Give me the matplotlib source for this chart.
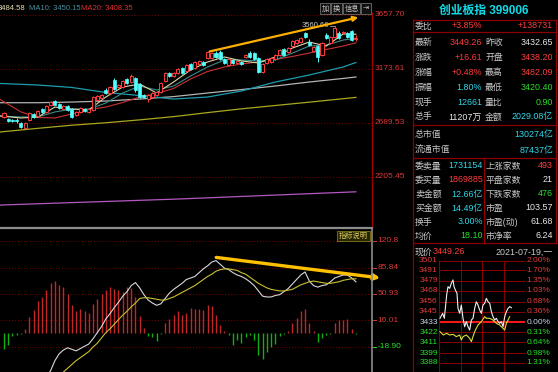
import numpy as np
import matplotlib.pyplot as plt

W, H = 558, 372
plt.rcParams['font.family'] = ['Liberation Sans', 'Noto Sans CJK SC', 'DejaVu Sans']
plt.rcParams['axes.unicode_minus'] = False

RED = '#ff3c3c'
CYAN = '#54ffff'
GRID = '#7a0000'
TXT = '#c8c8c8'
WHITE = '#e8e8e8'
GREEN = '#28e028'
BLUE = '#30d8e8'

# ---- daily candles (index 0 = oldest) ----
opens = [2742, 2724, 2718, 2716, 2688, 2643, 2715, 2769, 2751, 2814,
         2787, 2850, 2885, 2858, 2814, 2841, 2814, 2760, 2787, 2814,
         2787, 2805, 2894, 2912, 2984, 2957, 3074, 3011, 3011, 3083,
         3056, 3092, 3038, 2939, 2903, 2921, 2939, 2966, 3065, 3137,
         3110, 3137, 3182, 3155, 3218, 3182, 3218, 3236, 3272, 3272,
         3316, 3325, 3263, 3209, 3254, 3227, 3236, 3281, 3316, 3316,
         3272, 3146, 3227, 3236, 3263, 3299, 3352, 3325, 3379, 3406,
         3415, 3496, 3415, 3334, 3379, 3299, 3478, 3406, 3460, 3496,
         3496, 3496, 3510, 3438.20]
closes = [2778, 2710, 2708, 2705, 2652, 2688, 2778, 2742, 2796, 2787,
          2841, 2876, 2850, 2822, 2841, 2805, 2742, 2787, 2822, 2796,
          2814, 2921, 2930, 2939, 2957, 3011, 2993, 3029, 3065, 3047,
          3110, 2984, 2921, 2921, 2939, 2957, 2966, 3047, 3137, 3110,
          3137, 3173, 3137, 3209, 3173, 3236, 3245, 3209, 3325, 3316,
          3281, 3263, 3227, 3263, 3227, 3245, 3218, 3299, 3281, 3263,
          3146, 3218, 3263, 3272, 3299, 3343, 3299, 3361, 3424, 3433,
          3451, 3460, 3388, 3370, 3281, 3406, 3451, 3460, 3541, 3451,
          3505, 3460, 3432.65, 3449.26]
highs = [2790, 2735, 2728, 2730, 2700, 2695, 2785, 2778, 2805, 2823,
         2848, 2885, 2895, 2866, 2850, 2850, 2820, 2795, 2830, 2820,
         2822, 2928, 2940, 2948, 3000, 3020, 3092, 3038, 3072, 3092,
         3128, 3100, 3045, 2948, 2946, 2965, 2975, 3055, 3146, 3146,
         3146, 3182, 3191, 3218, 3227, 3245, 3254, 3245, 3334, 3325,
         3334, 3343, 3272, 3272, 3263, 3254, 3245, 3308, 3334, 3325,
         3281, 3227, 3272, 3281, 3308, 3352, 3361, 3370, 3433, 3442,
         3460, 3505, 3440, 3379, 3388, 3415, 3496, 3469, 3560.66, 3514,
         3514, 3505, 3523, 3482.09]
lows = [2733, 2700, 2695, 2690, 2640, 2625, 2708, 2735, 2745, 2780,
        2780, 2842, 2845, 2815, 2808, 2798, 2735, 2752, 2780, 2790,
        2780, 2800, 2888, 2905, 2950, 2950, 2985, 3002, 3005, 3040,
        3050, 2966, 2912, 2912, 2880, 2915, 2932, 2960, 3058, 3102,
        3104, 3130, 3130, 3148, 3166, 3176, 3210, 3200, 3265, 3265,
        3274, 3256, 3218, 3200, 3220, 3220, 3210, 3274, 3274, 3256,
        3137, 3140, 3220, 3230, 3256, 3292, 3292, 3318, 3370, 3400,
        3408, 3452, 3380, 3326, 3236, 3292, 3444, 3398, 3452, 3444,
        3488, 3452, 3425, 3420.40]

# moving averages
ma_idx = [-1, 4, 8, 12, 16, 20, 24, 28, 32, 36, 40, 44, 48, 52, 56, 60, 64, 68, 72, 76, 80, 83]
ma5 = [2751, 2733, 2742, 2831, 2813, 2805, 2921, 3011, 3038, 2957, 3056,
       3164, 3236, 3281, 3245, 3227, 3281, 3361, 3415, 3379, 3487, 3485]
ma10 = [2751, 2742, 2742, 2787, 2813, 2813, 2867, 2957, 3020, 2984, 3020,
        3110, 3191, 3254, 3254, 3245, 3254, 3316, 3379, 3388, 3433, 3450]
ma20 = [2901, 2787, 2737, 2733, 2769, 2809, 2831, 2872, 2921, 2953, 2998,
        3083, 3150, 3191, 3218, 3236, 3258, 3285, 3316, 3348, 3379, 3408]
long_idx = [-1, 8, 16, 24, 32, 40, 48, 56, 64, 72, 80, 83]
ma60 = [3043, 3029, 3007, 2962, 2935, 2903, 2921, 2975, 3056, 3119, 3191, 3231]
ma120 = [2870, 2870, 2876, 2885, 2903, 2925, 2957, 2988, 3020, 3056, 3088, 3101]
ma250 = [2607, 2640, 2668, 2690, 2716, 2745, 2781, 2815, 2845, 2875, 2906, 2918]
far_idx = [-1, 41, 83]
ma_far = [1951, 2005, 2070]

price_ticks = [3657.70, 3173.61, 2689.53, 2205.45]
top_values = ['3484.58', 'MA10: 3450.15', 'MA20: 3408.35']

# ---- MACD ----
macd = [-21, -15.8, -4.4, -2.6, -1.3, 4.4, 20.6, 29.4, 41.3, 47,
        55.8, 65.9, 67.6, 62.3, 60.1, 50.5, 36, 28.1, 31.6, 28.1,
        26.4, 38.2, 44.8, 51.4, 55.8, 60.1, 57.1, 55.8, 53.5, 60.1,
        58.8, 47, 21.9, 6.1, -4.4, -5.7, -11.5, -1.3, 13.2, 17.6,
        23.7, 28.1, 23.7, 26.4, 32.5, 31.6, 31.6, 29.4, 36, 34.7,
        23.7, 9.6, 2.6, -3.5, -16.7, -10.1, -13.2, -6, -3.5, -10.1,
        -29.9, -34.3, -25.5, -19, -14.5, -4.8, -1.7, 2, 13.2, 19.3,
        28.1, 30.7, 13.2, 2.6, -12.3, -7, -2.6, -1.3, 12.3, 16.3,
        16.7, 17.6, 4.4, -2.2]
nan = np.nan
dif = [nan, nan, nan, nan, nan, nan, nan, nan, nan, -70,
       -58, -50, -37, -28, -23, -20, -22, -24, -21, -18,
       -15, -8, 0, 8, 18, 25, 33, 40, 48, 54,
       62, 66, 59, 50, 43, 39, 36, 38, 45, 52,
       57, 61, 65, 70, 72, 74, 79, 84, 88, 93,
       95, 90, 85, 83, 79, 76, 74, 71, 67, 62,
       55, 48, 47, 47, 49, 50, 54, 58, 64, 70,
       76, 80, 68, 62, 60, 62, 63, 67, 72, 74,
       76, 76, 72, 67]
dea = [nan, nan, nan, nan, nan, nan, nan, nan, nan, nan,
       nan, nan, -72, -62, -52, -47, -42, -37, -33, -29,
       -25, -19, -14, -7, 0, 5, 11, 17, 23, 28,
       34, 39, 45, 46, 46, 45, 44, 43, 43, 45,
       47, 50, 53, 56, 59, 62, 66, 70, 74, 77,
       81, 83, 84, 84, 83, 82, 79, 77, 73, 69,
       65, 62, 59, 57, 56, 55, 55, 56, 57, 60,
       63, 65, 67, 68, 67, 66, 65, 65, 66, 67,
       69, 70, 71, 71]
macd_ticks = [120.8, 85.84, 50.93, 16.01, -18.90]

# ---- intraday ----
tick_minutes = [2.8, 10.2, 14.9, 21.4, 25.1, 29.8, 34.4, 39.1, 41.9, 45.6,
                50.2, 53.0, 57.7, 62.3, 67.0, 71.6, 76.3, 81.0, 85.6, 90.3,
                94.9, 99.6, 104.2, 108.9, 113.5, 118.2, 122.8, 127.5, 132.1, 136.8,
                141.5, 146.1, 150.8, 155.4, 160.1, 164.7, 169.4, 174.0, 178.7, 183.3,
                188.0, 192.7, 197.3, 202.0]
tick_price = [3437.5, 3443, 3437.5, 3463.3, 3472.6, 3470.7, 3476.3, 3480, 3472.6, 3468.9,
              3465.2, 3448.6, 3443, 3452.2, 3437.5, 3428.2, 3433.8, 3428.2, 3424.5, 3435.6,
              3437.5, 3448.6, 3455.9, 3452.2, 3446.7, 3443, 3452.2, 3454.1, 3459.6, 3455.9,
              3454.1, 3444.9, 3439.3, 3435.6, 3437.5, 3433.8, 3431.9, 3433.8, 3428.2, 3439.3,
              3444.9, 3448.6, 3450.4, 3449.3]
avg_minutes = [2.8, 12.1, 21.4, 29.8, 39.1, 48.4, 57.7, 62.3, 67.0, 76.3,
               85.6, 90.3, 94.9, 99.6, 108.9, 118.2, 127.5, 132.1, 141.5, 150.8,
               160.1, 169.4, 178.7, 183.3, 188.0, 197.3]
avg_price = [3422.7, 3419, 3420.9, 3419, 3419.7, 3417.2, 3419, 3413.5, 3417.2, 3419,
             3415.3, 3411.6, 3417.2, 3422.7, 3430.1, 3433.8, 3439.3, 3437.5, 3437.5, 3435.6,
             3431.9, 3430.1, 3426.4, 3424.5, 3431.9, 3439.3]
intra_ticks = [3501, 3491, 3479, 3468, 3456, 3445, 3433, 3422, 3411, 3399, 3388]
intra_pct = ['2.00%', '1.70%', '1.35%', '1.03%', '0.68%', '0.36%', '0.00%',
             '0.31%', '0.64%', '0.98%', '1.31%']

# ---- quote panel ----
title = '创业板指 399006'
wb_label, wb_pct, wb_diff = '委比', '+3.85%', '+138731'
q_left_lab = ['最新', '涨跌', '涨幅', '振幅', '现手', '总手']
q_left_val = ['3449.26', '+16.61', '+0.48%', '1.80%', '12661', '11207万']
q_left_col = [RED, RED, RED, BLUE, BLUE, WHITE]
q_right_lab = ['昨收', '开盘', '最高', '最低', '量比', '金额']
q_right_val = ['3432.65', '3438.20', '3482.09', '3420.40', '0.90', '2029.08亿']
q_right_col = [WHITE, RED, RED, GREEN, GREEN, BLUE]
cap_lab = ['总市值', '流通市值']
cap_val = ['130274亿', '87437亿']
b_left_lab = ['委卖量', '委买量', '卖金额', '买金额', '换手', '均价']
b_left_val = ['1731154', '1869885', '12.66亿', '14.49亿', '3.00%', '18.10']
b_left_col = [BLUE, RED, BLUE, BLUE, BLUE, GREEN]
b_right_lab = ['上涨家数', '平盘家数', '下跌家数', '市盈', '市盈(动)', '市净率']
b_right_val = ['493', '21', '476', '103.57', '61.68', '6.24']
b_right_col = [RED, WHITE, GREEN, WHITE, WHITE, WHITE]
now_label, now_price, now_date = '现价', '3449.26', '2021-07-19,一'
buttons = ['加', '换', '信息', '⇥']


def px_axes(fig, x0, y0, x1, y1):
    return fig.add_axes([x0 / W, 1 - y1 / H, (x1 - x0) / W, (y1 - y0) / H])


fig = plt.figure(figsize=(W / 100, H / 100), dpi=100, facecolor='black')

# main candlestick panel
ax = px_axes(fig, 0, 0, 372, 228)
ax.set_facecolor('black')
ax.set_xlim(-0.943, 86.79)
ax.set_ylim(1744.9, 3792.4)
ax.axis('off')
for v in price_ticks:
    ax.axhline(v, color=GRID, lw=0.7, ls=(0, (1, 2)))
    ax.text(1.008, v, '%.2f' % v, transform=ax.get_yaxis_transform(),
            color='#d83838', fontsize=6, va='center', ha='left', clip_on=False)

ax.plot(far_idx, ma_far, color='#b458c0', lw=0.9)
ax.plot(long_idx, ma250, color='#a8a820', lw=0.9)
ax.plot(long_idx, ma120, color='#b4b4b4', lw=0.9)
ax.plot(long_idx, ma60, color='#1c9cac', lw=0.9)
ax.plot(ma_idx, ma20, color='#c83232', lw=0.8)
ax.plot(ma_idx, ma10, color='#3c8a8a', lw=0.8)
ax.plot(ma_idx, ma5, color='#ddd6a8', lw=0.8)

x = np.arange(len(opens))
o = np.array(opens)
c = np.array(closes)
up = c >= o
ax.vlines(x[up], np.array(lows)[up], np.array(highs)[up], color=RED, lw=0.7, zorder=3)
ax.vlines(x[~up], np.array(lows)[~up], np.array(highs)[~up], color=CYAN, lw=0.7, zorder=3)
body_h = np.maximum(np.abs(c - o), 6)
ax.bar(x[up], body_h[up], bottom=o[up], width=0.72, facecolor='black',
       edgecolor=RED, lw=0.7, zorder=4)
ax.bar(x[~up], body_h[~up], bottom=c[~up], width=0.72, facecolor=CYAN,
       edgecolor=CYAN, lw=0.5, zorder=4)

hi = int(np.argmax(highs))
ax.plot([hi - 1.2, hi], [highs[hi], highs[hi]], color=TXT, lw=0.5)
ax.text(hi - 1.4, highs[hi], '%.2f' % highs[hi], color=TXT, fontsize=5.5,
        ha='right', va='center')
ax.annotate('', xy=(84.2, 3642), xytext=(47.9, 3325), annotation_clip=False,
            arrowprops=dict(arrowstyle='-|>', color='#ffb000', lw=1.6, mutation_scale=7))

# MACD panel
bx = px_axes(fig, 0, 229, 372, 372)
bx.set_facecolor('black')
bx.set_xlim(-0.943, 86.79)
bx.set_ylim(-51.9, 136.6)
bx.axis('off')
for v in macd_ticks:
    bx.axhline(v, color=GRID, lw=0.7, ls=(0, (1, 2)))
    col = '#d83838' if v > 0 else GREEN
    bx.plot([1.002, 1.012], [v, v], transform=bx.get_yaxis_transform(),
            color=col, lw=0.7, clip_on=False)
    bx.text(1.014, v, '%g' % v if v > 100 else '%.2f' % v,
            transform=bx.get_yaxis_transform(), color=col, fontsize=6,
            va='center', ha='left', clip_on=False)
m = np.array(macd)
bx.vlines(x[m >= 0], 0, m[m >= 0], color='#c02828', lw=1.0)
bx.vlines(x[m < 0], 0, m[m < 0], color='#10b010', lw=1.0)
bx.plot(x, dif, color='#d8d8d8', lw=0.8)
bx.plot(x, dea, color='#c8c030', lw=0.8)
bx.annotate('', xy=(89.4, 71.6), xytext=(49.4, 99.6), annotation_clip=False,
            arrowprops=dict(arrowstyle='-|>', color='#ffc000', lw=2.4, mutation_scale=8))

# intraday panel
ix = px_axes(fig, 439, 261, 525, 372)
ix.set_facecolor('black')
ix.set_xlim(0, 240)
ix.set_ylim(3378, 3501)
ix.axis('off')
for k, v in enumerate(intra_ticks):
    if v == 3433:
        ix.axhline(v, color='#ff1818', lw=1.4)
        lc, rc = '#c8d4e8', '#c8d4e8'
    else:
        ix.axhline(v, color='#8a0000', lw=0.7)
        lc = '#e03c3c' if v > 3433 else GREEN
        rc = lc
    ix.text(-0.015, v, str(v), transform=ix.get_yaxis_transform(), color=lc,
            fontsize=6, ha='right', va='center', clip_on=False)
    ix.text(1.02, v, intra_pct[k], transform=ix.get_yaxis_transform(), color=rc,
            fontsize=6, ha='left', va='center', clip_on=False)
for t in [0, 60, 120, 180, 240]:
    ix.axvline(t, color='#8a0000', lw=0.8 if t in (0, 240) else 0.7)
ix.plot(tick_minutes, tick_price, color='#f0f0f0', lw=0.8)
ix.plot(avg_minutes, avg_price, color='#dcdc40', lw=0.8)

# overlay for frames and quote text
ov = fig.add_axes([0, 0, 1, 1], zorder=10)
ov.set_xlim(0, W)
ov.set_ylim(H, 0)
ov.axis('off')
ov.patch.set_alpha(0)

FR = '#8c0000'
ov.plot([372, 372], [13, 228], color='#a00000', lw=0.9)
ov.plot([372, 372], [228, 372], color='#8c8c8c', lw=1.2)
ov.plot([0, 372], [228, 228], color='#8c8c8c', lw=1.6)
ov.plot([412.5, 412.5], [20, 372], color=FR, lw=0.9)
ov.plot([555.5, 555.5], [20, 243], color=FR, lw=0.9)
for yy in [20, 32, 125, 158, 243]:
    ov.plot([412.5, 555.5], [yy, yy], color=FR, lw=0.9)
ov.plot([484, 484], [158, 243], color=FR, lw=0.9)

# header text above the main chart
ov.text(-2.5, 8, top_values[0], color='#e6dcb4', fontsize=5.5, va='center')
ov.text(29, 8, top_values[1], color='#4a90a0', fontsize=5.5, va='center')
ov.text(81, 8, top_values[2], color='#e03030', fontsize=5.5, va='center')

# small buttons
bxs = [(320, 330), (331, 342), (343, 360), (361, 371)]
for (a, b), lab in zip(bxs, buttons):
    ov.add_patch(plt.Rectangle((a, 3), b - a, 11, facecolor='#101010',
                               edgecolor='#606060', lw=0.7))
    ov.text((a + b) / 2, 8.5, lab, color=TXT, fontsize=5.2, ha='center', va='center',
            family=['Noto Sans CJK SC', 'DejaVu Sans'])

# indicator tag
ov.add_patch(plt.Rectangle((337, 230.5), 33, 10, facecolor='#262600',
                           edgecolor='#807820', lw=0.6))
ov.text(353.5, 235.5, '指标说明', color='#d8c860', fontsize=5.2, ha='center',
        va='center', family=['Noto Sans CJK SC'])

# quote panel
FS = 6.4
ov.text(484, 11, title, color='#10dce8', fontsize=8.5, ha='center', va='center',
        fontweight='bold')
ov.text(415, 26, wb_label, color=TXT, fontsize=FS, va='center')
ov.text(482, 26, wb_pct, color=RED, fontsize=FS, ha='right', va='center')
ov.text(553, 26, wb_diff, color=RED, fontsize=FS, ha='right', va='center')
for k in range(6):
    yy = 42.5 + 14.9 * k
    ov.text(415, yy, q_left_lab[k], color=TXT, fontsize=FS, va='center')
    ov.text(482, yy, q_left_val[k], color=q_left_col[k], fontsize=FS, ha='right', va='center')
    ov.text(485, yy, q_right_lab[k], color=TXT, fontsize=FS, va='center')
    ov.text(553, yy, q_right_val[k], color=q_right_col[k], fontsize=FS, ha='right', va='center')
for k in range(2):
    yy = 134 + 16 * k
    ov.text(415, yy, cap_lab[k], color=TXT, fontsize=FS, va='center')
    ov.text(553, yy, cap_val[k], color=BLUE, fontsize=FS, ha='right', va='center')
for k in range(6):
    yy = 166 + 14 * k
    ov.text(415, yy, b_left_lab[k], color=TXT, fontsize=FS, va='center')
    ov.text(483, yy, b_left_val[k], color=b_left_col[k], fontsize=FS, ha='right', va='center')
    ov.text(486, yy, b_right_lab[k], color=TXT, fontsize=FS, va='center')
    ov.text(553, yy, b_right_val[k], color=b_right_col[k], fontsize=FS, ha='right', va='center')
ov.text(415, 252, now_label, color=TXT, fontsize=FS, va='center')
ov.text(433, 252, now_price, color=RED, fontsize=FS, va='center')
ov.text(553, 252, now_date, color=TXT, fontsize=FS, ha='right', va='center')

fig.savefig('out.png', dpi=100, facecolor='black')
